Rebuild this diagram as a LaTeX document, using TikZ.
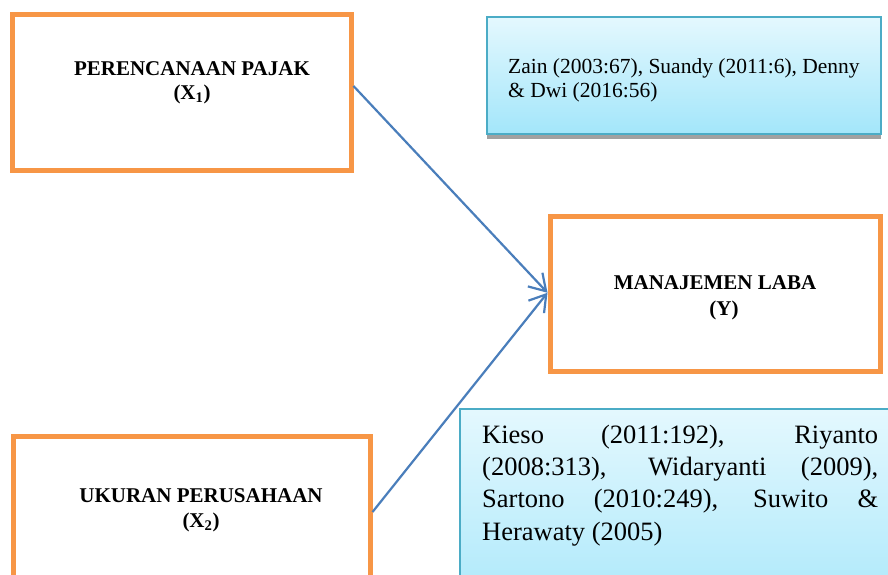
\documentclass[tikz,border=0pt]{standalone}
\usepackage{fontspec}
\setmainfont{Liberation Serif}
\usetikzlibrary{arrows.meta,calc,shadows}
\definecolor{orangeline}{HTML}{F79646}
\definecolor{arrowblue}{HTML}{4A7EBB}
\definecolor{cyanborder}{HTML}{4BACC6}
\definecolor{cyantop}{HTML}{E4F8FE}
\definecolor{cyanbot}{HTML}{A3E6FA}
\begin{document}
\begin{tikzpicture}[x=1pt,y=-1pt,
  varbox/.style={draw=orangeline,line width=5pt,fill=white,inner sep=0pt},
  refbox/.style={draw=cyanborder,line width=2pt,top color=cyantop,bottom color=cyanbot,inner sep=0pt},
  lbl/.style={font=\fontsize{21}{24}\selectfont\bfseries,inner sep=0pt,anchor=base},
  reftext/.style={font=\fontsize{21.5}{24}\selectfont,inner sep=0pt,anchor=base west},
  reftextbig/.style={font=\fontsize{26.5}{32}\selectfont,inner sep=0pt,anchor=base west},
  link/.style={draw=arrowblue,line width=2.2pt,-{Straight Barb[length=16pt,width=20pt]}}]
\useasboundingbox (0,0) rectangle (888,574);
\clip (0,0) rectangle (888,574);
\fill[white] (0,0) rectangle (888,574);

% variable boxes
\node[varbox,minimum width=338.5pt,minimum height=155.5pt] (x1) at (181.75,92.25) {};
\node[varbox,minimum width=356.5pt,minimum height=152pt] (x2) at (191.75,512) {};
\node[varbox,minimum width=330pt,minimum height=154.5pt] (y) at (715,293.75) {};

\node[lbl] (x1a) at (192,75) {PERENCANAAN PAJAK};
\node[lbl] (x1b) at (192,99) {(X\textsubscript{1})};
\node[lbl] (x2a) at (201,502) {UKURAN PERUSAHAAN};
\node[lbl] (x2b) at (201,527) {(X\textsubscript{2})};
\node[lbl] (ya) at (715,289) {MANAJEMEN LABA};
\node[lbl] (yb) at (724,315) {(Y)};

% reference boxes
\node[refbox,minimum width=394pt,minimum height=117pt,
      drop shadow={shadow xshift=0pt,shadow yshift=-5pt,fill=black!37,opacity=1}] (r1) at (684,75.5) {};
\node[reftext] (r1a) at (508,73) {Zain (2003:67), Suandy (2011:6), Denny};
\node[reftext] (r1b) at (508,97) {\& Dwi (2016:56)};

\node[refbox,minimum width=450pt,minimum height=231pt] (r2) at (685,524.5) {};
\node[reftextbig] (r2a) at (482,443) {\makebox[396pt][s]{Kieso (2011:192), Riyanto}};
\node[reftextbig] (r2b) at (482,475.3) {\makebox[396pt][s]{(2008:313), Widaryanti (2009),}};
\node[reftextbig] (r2c) at (482,507.6) {\makebox[396pt][s]{Sartono (2010:249), Suwito \&}};
\node[reftextbig] (r2d) at (482,540) {Herawaty (2005)};

% connectors
\draw[link] ([yshift=6.25pt]x1.east) -- ([yshift=1pt]y.west);
\draw[link] (x2.east) -- ([yshift=1pt]y.west);
\end{tikzpicture}
\end{document}
